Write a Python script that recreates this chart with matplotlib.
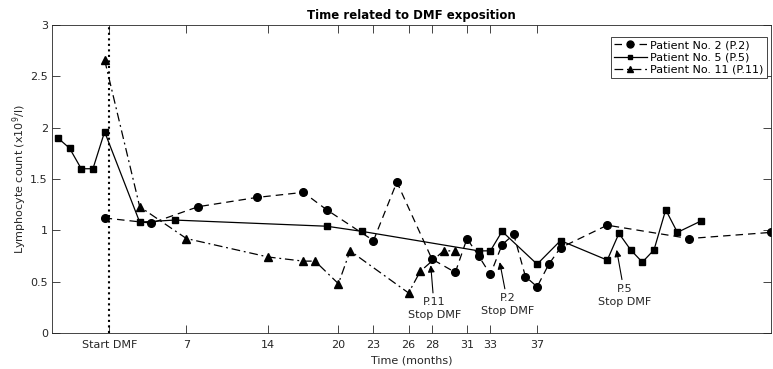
import matplotlib
matplotlib.use("Agg")
import matplotlib.pyplot as plt
from matplotlib.lines import Line2D

# months relative to DMF start
p2_months = [0, 4, 8, 13, 17, 19, 23, 25, 28, 30, 31, 32, 33, 34, 35, 36, 37, 38, 39, 43, 50, 57]
p2_counts = [1.12, 1.07, 1.23, 1.32, 1.37, 1.20, 0.90, 1.47, 0.72, 0.59, 0.92, 0.75, 0.57, 0.86,
             0.96, 0.55, 0.45, 0.67, 0.83, 1.05, 0.92, 0.98]

p5_months = [-4, -3, -2, -1, 0, 3, 6, 19, 22, 32, 33, 34, 37, 39, 43, 44, 45, 46, 47, 48, 49, 51]
p5_counts = [1.90, 1.80, 1.60, 1.60, 1.96, 1.08, 1.10, 1.04, 0.99, 0.80, 0.80, 0.99, 0.67, 0.90,
             0.71, 0.97, 0.81, 0.69, 0.81, 1.20, 0.98, 1.09]

p11_months = [0, 3, 7, 14, 17, 18, 20, 21, 26, 27, 29, 30]
p11_counts = [2.66, 1.23, 0.92, 0.74, 0.70, 0.70, 0.48, 0.80, 0.39, 0.60, 0.80, 0.80]

start_dmf = 0.4
xtick_pos = [start_dmf, 7, 14, 20, 23, 26, 28, 31, 33, 37]
xtick_labels = ["Start DMF", "7", "14", "20", "23", "26", "28", "31", "33", "37"]

# (label, arrow tip x, tip y, text x, text top y)
stops = [
    ("P.11\nStop DMF", 27.9, 0.66, 28.2, 0.35),
    ("P.2\nStop DMF", 33.8, 0.69, 34.5, 0.39),
    ("P.5\nStop DMF", 43.8, 0.81, 44.5, 0.48),
]

plt.rcParams["font.family"] = "DejaVu Sans"
fig = plt.figure(figsize=(7.73, 3.69), dpi=100)
ax = fig.add_axes([0.0673, 0.0976, 0.930, 0.8346])

lw = 0.9
dash = (0, (6, 4))
dashdot = (0, (7, 3, 1.5, 3))
ax.plot(p2_months, p2_counts, color="black", ls=dash, lw=lw, marker="o", ms=5.5)
ax.plot(p5_months, p5_counts, color="black", ls="-", lw=lw, marker="s", ms=4)
ax.plot(p11_months, p11_counts, color="black", ls=dashdot, lw=lw, marker="^", ms=5.5)
ax.axvline(start_dmf, color="black", ls=":", lw=1.5)

for text, tx, ty, lx, ly in stops:
    ax.annotate(text, xy=(tx, ty), xytext=(lx, ly), ha="center", va="top",
                fontsize=8, color="#262626", linespacing=1.4,
                arrowprops=dict(arrowstyle="-|>", color="black", lw=0.8,
                                mutation_scale=10, shrinkA=1, shrinkB=0))

ax.set_xlim(-4.5, 57)
ax.set_ylim(0, 3)
ax.set_xticks(xtick_pos)
ax.set_xticklabels(xtick_labels)
ax.set_yticks([0, 0.5, 1, 1.5, 2, 2.5, 3])
ax.set_yticklabels(["0", "0.5", "1", "1.5", "2", "2.5", "3"])
ax.tick_params(direction="in", top=True, right=True, length=5.5, width=0.6,
               labelsize=8, colors="#262626", pad=3)
ax.tick_params(axis="x", pad=5)
for spine in ax.spines.values():
    spine.set_color("#262626")
    spine.set_linewidth(0.6)

ax.set_title("Time related to DMF exposition", fontsize=8.5, fontweight="bold", pad=4)
ax.set_xlabel("Time (months)", fontsize=8, color="#262626", labelpad=4)
ax.set_ylabel("Lymphocyte count (x10$^9$/l)", fontsize=8, color="#262626", labelpad=1)

handles = [
    Line2D([], [], color="black", ls=dash, lw=lw, marker="o", ms=5),
    Line2D([], [], color="black", ls="-", lw=lw, marker="s", ms=3.5),
    Line2D([], [], color="black", ls=dashdot, lw=lw, marker="^", ms=5),
]
labels = ["Patient No. 2 (P.2)", "Patient No. 5 (P.5)", "Patient No. 11 (P.11)"]
leg = ax.legend(handles, labels, loc="upper right", bbox_to_anchor=(0.994, 0.961),
                fontsize=8, fancybox=False, framealpha=1, edgecolor="#262626",
                handlelength=2.9, handletextpad=0.3, borderpad=0.3, labelspacing=0.2,
                borderaxespad=0)
leg.get_frame().set_linewidth(0.6)

fig.savefig("out.png", dpi=100)
